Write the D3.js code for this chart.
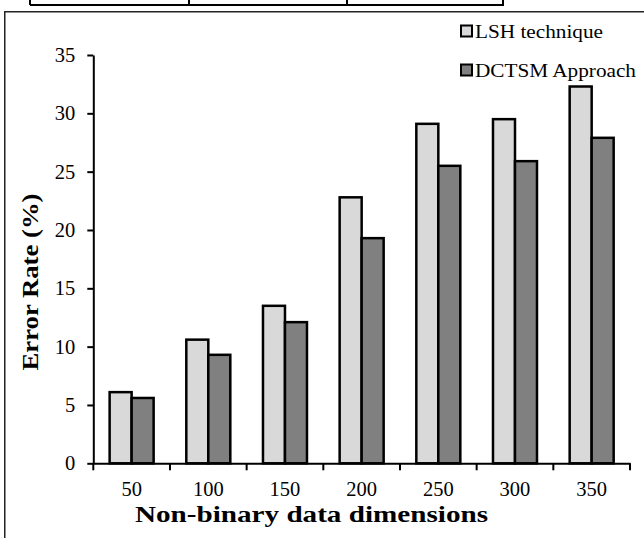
<!DOCTYPE html>
<html><head><meta charset="utf-8">
<script src="https://cdn.jsdelivr.net/npm/d3@7"></script>
<style>
html,body{margin:0;padding:0;background:#fff;}
svg{display:block;}
text{font-family:"Liberation Serif","Times New Roman",serif;fill:#000;}
</style></head>
<body>
<svg id="chart" width="644" height="538"></svg>
<script>
const categories = ["50","100","150","200","250","300","350"];
const seriesNames = ["LSH technique","DCTSM Approach"];
const lshValues = [6.1,10.6,13.5,22.8,29.1,29.5,32.3];
const dctsmValues = [5.6,9.3,12.1,19.3,25.5,25.9,27.9];
const yTicks = [0,5,10,15,20,25,30,35];
const xTitle = "Non-binary data dimensions";
const yTitle = "Error Rate (%)";
const colors = ["#d9d9d9","#808080"];

(function(){
const svg = d3.select("#chart");
const FF = '"Liberation Serif","Times New Roman",serif';

// table fragment at top
const tbl = svg.append("g");
tbl.append("line").attr("x1",30).attr("x2",504).attr("y1",5).attr("y2",5).attr("stroke","#000").attr("stroke-width",2);
[30,189,347,503].forEach(x=>{
  tbl.append("line").attr("x1",x).attr("x2",x).attr("y1",0).attr("y2",5).attr("stroke","#000").attr("stroke-width",2);
});
// outer frame (left and top edges visible)
svg.append("path").attr("d","M4.75,538 L4.75,11.75 L644,11.75")
  .attr("fill","none").attr("stroke","#222").attr("stroke-width",1.5);

const pLeft = 93.3, pRight = 630, pTop = 55, pBottom = 463.3;
const x0 = d3.scaleBand().domain(categories).range([pLeft,pRight]).padding(0);
const groupW = 44;
const x1 = d3.scaleBand().domain(seriesNames)
  .range([(x0.bandwidth()-groupW)/2,(x0.bandwidth()+groupW)/2]).padding(0);
const y = d3.scaleLinear().domain([0,35]).range([pBottom,pTop]);

const data = categories.map((c,i)=>({cat:c, vals:[lshValues[i],dctsmValues[i]]}));

// bars
const g = svg.append("g");
const groups = g.selectAll("g.grp").data(data).join("g")
  .attr("transform",d=>`translate(${x0(d.cat)},0)`);
groups.selectAll("rect").data(d=>d.vals.map((v,j)=>({v,s:seriesNames[j],j}))).join("rect")
  .attr("x",d=>x1(d.s)).attr("width",x1.bandwidth())
  .attr("y",d=>y(d.v)).attr("height",d=>y(0)-y(d.v))
  .attr("fill",d=>colors[d.j]).attr("stroke","#000").attr("stroke-width",2.5);

// y axis
const yAxis = svg.append("g").attr("transform",`translate(${pLeft},0)`)
  .call(d3.axisLeft(y).tickValues(yTicks).tickSize(6).tickPadding(12).tickSizeOuter(0));
yAxis.select(".domain").attr("stroke","#000").attr("stroke-width",2);
yAxis.selectAll(".tick line").attr("stroke","#000").attr("stroke-width",2);
yAxis.selectAll(".tick text").attr("font-size",20.5).attr("font-family",FF);

// x axis
const xAxis = svg.append("g").attr("transform",`translate(0,${pBottom})`)
  .call(d3.axisBottom(x0).tickSize(0).tickPadding(18.5).tickSizeOuter(0));
xAxis.select(".domain").attr("stroke","#000").attr("stroke-width",2);
xAxis.selectAll(".tick text").attr("font-size",20.5).attr("font-family",FF);
const bounds = categories.map(c=>x0(c)).concat([pRight]);
xAxis.selectAll("line.bt").data(bounds).join("line").attr("class","bt")
  .attr("x1",d=>d).attr("x2",d=>d).attr("y1",0).attr("y2",7)
  .attr("stroke","#000").attr("stroke-width",2);

// titles
svg.append("text").attr("x",311.5).attr("y",522)
  .attr("text-anchor","middle").attr("font-size",24).attr("font-weight","bold")
  .attr("textLength",353).attr("lengthAdjust","spacingAndGlyphs").text(xTitle);
svg.append("text").attr("transform","translate(38,282) rotate(-90)")
  .attr("text-anchor","middle").attr("font-size",24).attr("font-weight","bold")
  .attr("textLength",177).attr("lengthAdjust","spacingAndGlyphs").text(yTitle);

// legend
const leg = svg.append("g");
const legY = [31,70];
const legLen = [128,161];
seriesNames.forEach((s,i)=>{
  leg.append("rect").attr("x",461).attr("y",legY[i]-5.5).attr("width",11).attr("height",11)
    .attr("fill",colors[i]).attr("stroke","#000").attr("stroke-width",2);
  leg.append("text").attr("x",475).attr("y",legY[i]+6.5).attr("font-size",18.5)
    .attr("textLength",legLen[i]).attr("lengthAdjust","spacingAndGlyphs").text(s);
});
})();
</script>
</body></html>
